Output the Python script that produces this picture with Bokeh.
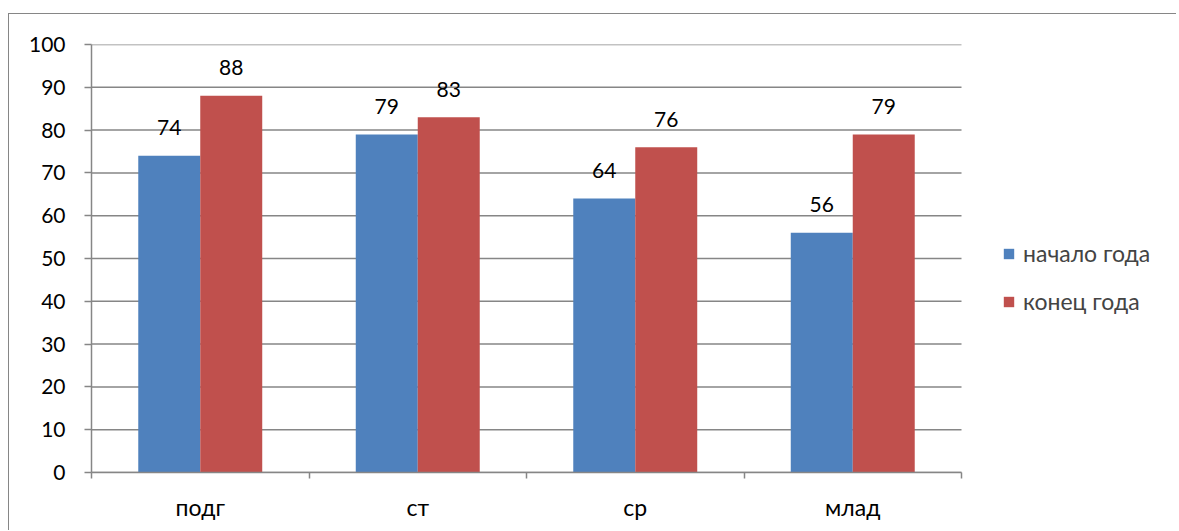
from bokeh.plotting import figure
from bokeh.models import Range1d, FixedTicker, Legend, LegendItem, ColumnDataSource
from bokeh.core.properties import value
from bokeh.embed import file_html
from bokeh.resources import INLINE

categories = ["подг", "ст", "ср", "млад"]
series_names = ["начало года", "конец года"]
start_values = [74, 79, 64, 56]
end_values = [88, 83, 76, 79]
y_ticks = [0, 10, 20, 30, 40, 50, 60, 70, 80, 90, 100]
colors = ["#4F81BD", "#C0504D"]

FONT = "Lato"
GRAY = "#868686"
NUM_SIZE = "21px"
TXT_SIZE = "23px"
BAR_W = 0.285
PLOT_W = 870          # pixel width of the category area
FRAME_W = 1077        # frame also hosts the legend on the right
FRAME_H = 428
n = len(categories)
x_end = n * FRAME_W / PLOT_W

p = figure(frame_width=FRAME_W, frame_height=FRAME_H,
           x_range=Range1d(0, x_end), y_range=Range1d(0, 100),
           output_backend="svg", toolbar_location=None,
           min_border_left=82, min_border_right=8, min_border_top=30, min_border_bottom=58)
p.styles = {"position": "relative", "left": "8px", "top": "13px",
            "border-left": "1.5px solid #868686", "border-top": "1.5px solid #868686"}
p.outline_line_color = None

# horizontal grid lines limited to the category area
p.segment(x0=[0] * len(y_ticks), x1=[n] * len(y_ticks), y0=y_ticks, y1=y_ticks,
          line_color=GRAY, line_width=1.5)

renderers = []
for k, vals in enumerate([start_values, end_values]):
    xs = [i + 0.5 + (k - 0.5) * BAR_W for i in range(n)]
    src = ColumnDataSource(dict(x=xs, top=vals, label=[str(v) for v in vals]))
    r = p.vbar(x="x", top="top", width=BAR_W, bottom=0, source=src,
               fill_color=colors[k], line_color=None)
    renderers.append(r)
    p.text(x="x", y="top", text="label", source=src, text_align="center",
           text_baseline="middle", y_offset=-28, text_font=value(FONT),
           text_font_size=NUM_SIZE, text_color="#000000")

# axes
p.xaxis.bounds = (0, n)
p.xaxis.ticker = FixedTicker(ticks=[i + 0.5 for i in range(n)],
                             minor_ticks=list(range(n + 1)))
p.xaxis.major_label_overrides = {i + 0.5: c for i, c in enumerate(categories)}
p.xaxis.major_tick_line_color = None
p.xaxis.minor_tick_line_color = GRAY
p.xaxis.minor_tick_line_width = 1.5
p.xaxis.minor_tick_out = 6
p.xaxis.minor_tick_in = 0
p.xaxis.major_label_standoff = 14
p.xaxis.axis_line_color = GRAY
p.xaxis.axis_line_width = 1.5
p.xaxis.major_label_text_font_size = TXT_SIZE

p.yaxis.ticker = FixedTicker(ticks=y_ticks, minor_ticks=[])
p.yaxis.major_tick_out = 7
p.yaxis.major_tick_in = 0
p.yaxis.major_tick_line_color = GRAY
p.yaxis.major_tick_line_width = 1.5
p.yaxis.major_label_standoff = 19
p.yaxis.axis_line_color = GRAY
p.yaxis.axis_line_width = 1.5
p.yaxis.major_label_text_font_size = NUM_SIZE

for ax in (p.xaxis, p.yaxis):
    ax.major_label_text_font = FONT
    ax.major_label_text_color = "#000000"

p.xgrid.visible = False
p.ygrid.visible = False

legend = Legend(items=[LegendItem(label=series_names[k], renderers=[renderers[k]]) for k in range(2)],
                location=(PLOT_W + 41, 157), orientation="vertical", glyph_width=13, glyph_height=13,
                label_text_font=FONT, label_text_font_size=TXT_SIZE, label_standoff=8,
                spacing=20, padding=0, margin=0, border_line_color=None,
                background_fill_alpha=0)
p.add_layout(legend, "center")

open("out.html", "w").write(file_html(p, INLINE))
